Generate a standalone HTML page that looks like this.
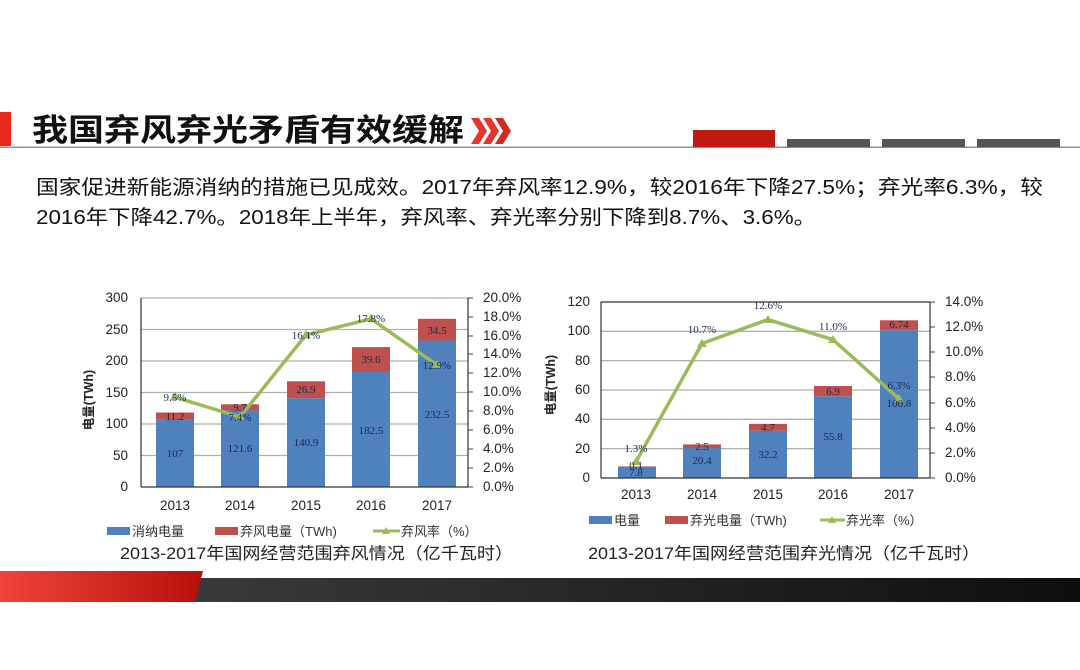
<!DOCTYPE html>
<html><head><meta charset="utf-8"><style>
html,body{margin:0;padding:0;background:#fff;}
svg{display:block;font-family:"Liberation Sans","Noto Sans CJK SC",sans-serif;}
.tk{font-size:13.5px;fill:#222;}
.dl{font-family:"Liberation Serif","Noto Serif CJK SC",serif;font-size:11px;fill:#1a2a50;}
.lg{font-size:13px;fill:#333;}
.cap{font-size:16.5px;fill:#222;}
</style></head><body>
<svg width="1080" height="670" viewBox="0 0 1080 670">
<defs>
<linearGradient id="rg" x1="0" x2="1"><stop offset="0" stop-color="#f0443a"/><stop offset="1" stop-color="#b80f0a"/></linearGradient>
<linearGradient id="dg" x1="0" x2="1"><stop offset="0" stop-color="#3a3a3c"/><stop offset="1" stop-color="#0e0e10"/></linearGradient>
</defs>
<rect x="0" y="112" width="11" height="34" fill="#e8281e"/>
<text x="32" y="141" font-size="31" font-weight="bold" fill="#111" textLength="432" lengthAdjust="spacingAndGlyphs">我国弃风弃光矛盾有效缓解</text>
<polygon points="471,118 479,118 487,131 479,144 471,144 479,131" fill="#e8352c"/>
<polygon points="483,118 491,118 499,131 491,144 483,144 491,131" fill="#e8352c"/>
<polygon points="495,118 503,118 511,131 503,144 495,144 503,131" fill="#d02a22"/>
<rect x="0" y="146.5" width="1080" height="1.5" fill="#9a8a88"/>
<rect x="693" y="130" width="82" height="17" fill="#c01a12"/>
<rect x="787" y="139" width="83" height="8" fill="#555"/>
<rect x="882" y="139" width="83" height="8" fill="#555"/>
<rect x="977" y="139" width="83" height="8" fill="#555"/>
<text x="36" y="194" font-size="20" fill="#111" textLength="1007" lengthAdjust="spacingAndGlyphs">国家促进新能源消纳的措施已见成效。2017年弃风率12.9%，较2016年下降27.5%；弃光率6.3%，较</text>
<text x="36" y="224" font-size="20" fill="#111" textLength="780" lengthAdjust="spacingAndGlyphs">2016年下降42.7%。2018年上半年，弃风率、弃光率分别下降到8.7%、3.6%。</text>

<g stroke="#b0b0b0" stroke-width="1.3">
<line x1="141" y1="298" x2="468" y2="298"/>
<line x1="141" y1="329.5" x2="468" y2="329.5"/>
<line x1="141" y1="361" x2="468" y2="361"/>
<line x1="141" y1="392.5" x2="468" y2="392.5"/>
<line x1="141" y1="424" x2="468" y2="424"/>
<line x1="141" y1="455.5" x2="468" y2="455.5"/>
</g>
<g fill="#4f81bd">
<rect x="156" y="419.6" width="38" height="67.4"/>
<rect x="221" y="410.4" width="38" height="76.6"/>
<rect x="287" y="398.2" width="38" height="88.8"/>
<rect x="352" y="372" width="38" height="115"/>
<rect x="418" y="340.5" width="38" height="146.5"/>
</g>
<g fill="#c0504d">
<rect x="156" y="412.5" width="38" height="7.1"/>
<rect x="221" y="404.3" width="38" height="6.1"/>
<rect x="287" y="381.3" width="38" height="16.9"/>
<rect x="352" y="347.1" width="38" height="24.9"/>
<rect x="418" y="318.8" width="38" height="21.7"/>
</g>
<g stroke="#333" stroke-width="1.2">
<line x1="141" y1="298" x2="141" y2="487"/><line x1="141" y1="487" x2="468" y2="487"/>
<line x1="468" y1="298" x2="468" y2="487"/>
</g>
<g stroke="#444" stroke-width="1">
<line x1="468" y1="298" x2="473" y2="298"/><line x1="468" y1="317" x2="473" y2="317"/><line x1="468" y1="336" x2="473" y2="336"/><line x1="468" y1="354" x2="473" y2="354"/><line x1="468" y1="373" x2="473" y2="373"/><line x1="468" y1="392" x2="473" y2="392"/><line x1="468" y1="411" x2="473" y2="411"/><line x1="468" y1="430" x2="473" y2="430"/><line x1="468" y1="449" x2="473" y2="449"/><line x1="468" y1="468" x2="473" y2="468"/><line x1="468" y1="487" x2="473" y2="487"/>
</g>
<polyline points="175,397.2 240,417 306,334.9 371,318.8 437,365.1" fill="none" stroke="#9bbb59" stroke-width="3.5" stroke-linejoin="round"/>
<g fill="#9bbb59">
<polygon points="175,392 180,400 170,400"/><polygon points="240,412 245,420 235,420"/><polygon points="306,330 311,338 301,338"/><polygon points="371,314 376,322 366,322"/><polygon points="437,360 442,368 432,368"/>
</g>
<g class="tk" text-anchor="end">
<text x="128" y="302">300</text><text x="128" y="334">250</text><text x="128" y="365">200</text><text x="128" y="397">150</text><text x="128" y="428">100</text><text x="128" y="460">50</text><text x="128" y="491">0</text>
</g>
<g class="tk">
<text x="483" y="302">20.0%</text><text x="483" y="321">18.0%</text><text x="483" y="340">16.0%</text><text x="483" y="358">14.0%</text><text x="483" y="377">12.0%</text><text x="483" y="396">10.0%</text><text x="483" y="415">8.0%</text><text x="483" y="434">6.0%</text><text x="483" y="453">4.0%</text><text x="483" y="472">2.0%</text><text x="483" y="491">0.0%</text>
</g>
<g class="tk" text-anchor="middle">
<text x="175" y="510">2013</text><text x="240" y="510">2014</text><text x="306" y="510">2015</text><text x="371" y="510">2016</text><text x="437" y="510">2017</text>
</g>
<text transform="translate(93,400) rotate(-90)" text-anchor="middle" font-size="12.5" font-weight="bold" fill="#222">电量(TWh)</text>
<g class="dl" text-anchor="middle">
<text x="175" y="457">107</text><text x="240" y="452">121.6</text><text x="306" y="446">140.9</text><text x="371" y="434">182.5</text><text x="437" y="418">232.5</text>
<text x="175" y="420">11.2</text><text x="240" y="411">9.7</text><text x="306" y="393">26.9</text><text x="371" y="363">39.6</text><text x="437" y="334">34.5</text>
<text x="175" y="401">9.5%</text><text x="240" y="421">7.4%</text><text x="306" y="339">16.1%</text><text x="371" y="322">17.8%</text><text x="437" y="369">12.9%</text>
</g>
<rect x="107" y="527" width="23" height="8" fill="#4f81bd"/>
<text class="lg" x="132" y="536">消纳电量</text>
<rect x="215" y="527" width="23" height="8" fill="#c0504d"/>
<text class="lg" x="240" y="536">弃风电量（TWh)</text>
<line x1="373" y1="531" x2="400" y2="531" stroke="#9bbb59" stroke-width="3"/>
<polygon points="386,527 390,534 382,534" fill="#9bbb59"/>
<text class="lg" x="401" y="536">弃风率（%）</text>
<text class="cap" x="120" y="559" textLength="393" lengthAdjust="spacingAndGlyphs">2013-2017年国网经营范围弃风情况（亿千瓦时）</text>

<g stroke="#b0b0b0" stroke-width="1.3">
<line x1="601" y1="331.3" x2="930" y2="331.3"/>
<line x1="601" y1="360.7" x2="930" y2="360.7"/>
<line x1="601" y1="390" x2="930" y2="390"/>
<line x1="601" y1="419.3" x2="930" y2="419.3"/>
<line x1="601" y1="448.7" x2="930" y2="448.7"/>
</g>
<g fill="#4f81bd">
<rect x="618" y="466.6" width="38" height="11.4"/>
<rect x="683" y="448.1" width="38" height="29.9"/>
<rect x="749" y="430.8" width="38" height="47.2"/>
<rect x="814" y="396.2" width="38" height="81.8"/>
<rect x="880" y="330.2" width="38" height="147.8"/>
</g>
<g fill="#c0504d">
<rect x="618" y="466.4" width="38" height="0.4"/>
<rect x="683" y="444.4" width="38" height="3.7"/>
<rect x="749" y="423.9" width="38" height="6.9"/>
<rect x="814" y="386" width="38" height="10.2"/>
<rect x="880" y="320.3" width="38" height="9.9"/>
</g>
<g stroke="#333" stroke-width="1.2">
<line x1="601" y1="302" x2="930" y2="302"/>
<line x1="601" y1="302" x2="601" y2="478"/><line x1="601" y1="478" x2="930" y2="478"/>
<line x1="930" y1="302" x2="930" y2="478"/>
</g>
<g stroke="#444" stroke-width="1">
<line x1="930" y1="302" x2="935" y2="302"/><line x1="930" y1="327" x2="935" y2="327"/><line x1="930" y1="352" x2="935" y2="352"/><line x1="930" y1="377" x2="935" y2="377"/><line x1="930" y1="403" x2="935" y2="403"/><line x1="930" y1="428" x2="935" y2="428"/><line x1="930" y1="453" x2="935" y2="453"/><line x1="930" y1="478" x2="935" y2="478"/>
</g>
<polyline points="636,461.7 702,343.5 768,319.6 833,339.7 899,398.8" fill="none" stroke="#9bbb59" stroke-width="3.5" stroke-linejoin="round"/>
<g fill="#9bbb59">
<polygon points="636,457 641,465 631,465"/><polygon points="702,339 707,347 697,347"/><polygon points="768,315 773,323 763,323"/><polygon points="833,335 838,343 828,343"/><polygon points="899,394 904,402 894,402"/>
</g>
<g class="tk" text-anchor="end">
<text x="590" y="306">120</text><text x="590" y="335">100</text><text x="590" y="365">80</text><text x="590" y="394">60</text><text x="590" y="423">40</text><text x="590" y="453">20</text><text x="590" y="482">0</text>
</g>
<g class="tk">
<text x="945" y="306">14.0%</text><text x="945" y="331">12.0%</text><text x="945" y="356">10.0%</text><text x="945" y="381">8.0%</text><text x="945" y="407">6.0%</text><text x="945" y="432">4.0%</text><text x="945" y="457">2.0%</text><text x="945" y="482">0.0%</text>
</g>
<g class="tk" text-anchor="middle">
<text x="636" y="499">2013</text><text x="702" y="499">2014</text><text x="768" y="499">2015</text><text x="833" y="499">2016</text><text x="899" y="499">2017</text>
</g>
<text transform="translate(555,385) rotate(-90)" text-anchor="middle" font-size="12.5" font-weight="bold" fill="#222">电量(TWh)</text>
<g class="dl" text-anchor="middle">
<text x="636" y="476">7.8</text><text x="702" y="464">20.4</text><text x="768" y="458">32.2</text><text x="833" y="440">55.8</text><text x="899" y="407">100.8</text>
<text x="636" y="469">0.1</text><text x="702" y="450">2.5</text><text x="768" y="431">4.7</text><text x="833" y="395">6.9</text><text x="899" y="328">6.74</text>
<text x="636" y="452">1.3%</text><text x="702" y="333">10.7%</text><text x="768" y="309">12.6%</text><text x="833" y="330">11.0%</text><text x="899" y="389">6.3%</text>
</g>
<rect x="589" y="516" width="23" height="8" fill="#4f81bd"/>
<text class="lg" x="614" y="525">电量</text>
<rect x="665" y="516" width="23" height="8" fill="#c0504d"/>
<text class="lg" x="690" y="525">弃光电量（TWh)</text>
<line x1="820" y1="520" x2="845" y2="520" stroke="#9bbb59" stroke-width="3"/>
<polygon points="832,516 836,523 828,523" fill="#9bbb59"/>
<text class="lg" x="846" y="525">弃光率（%）</text>
<text class="cap" x="588" y="559" textLength="392" lengthAdjust="spacingAndGlyphs">2013-2017年国网经营范围弃光情况（亿千瓦时）</text>

<polygon points="195,578 1080,578 1080,602 188,602" fill="url(#dg)"/>
<polygon points="0,571 203,571 195,602 0,602" fill="url(#rg)"/>
</svg>
</body></html>
